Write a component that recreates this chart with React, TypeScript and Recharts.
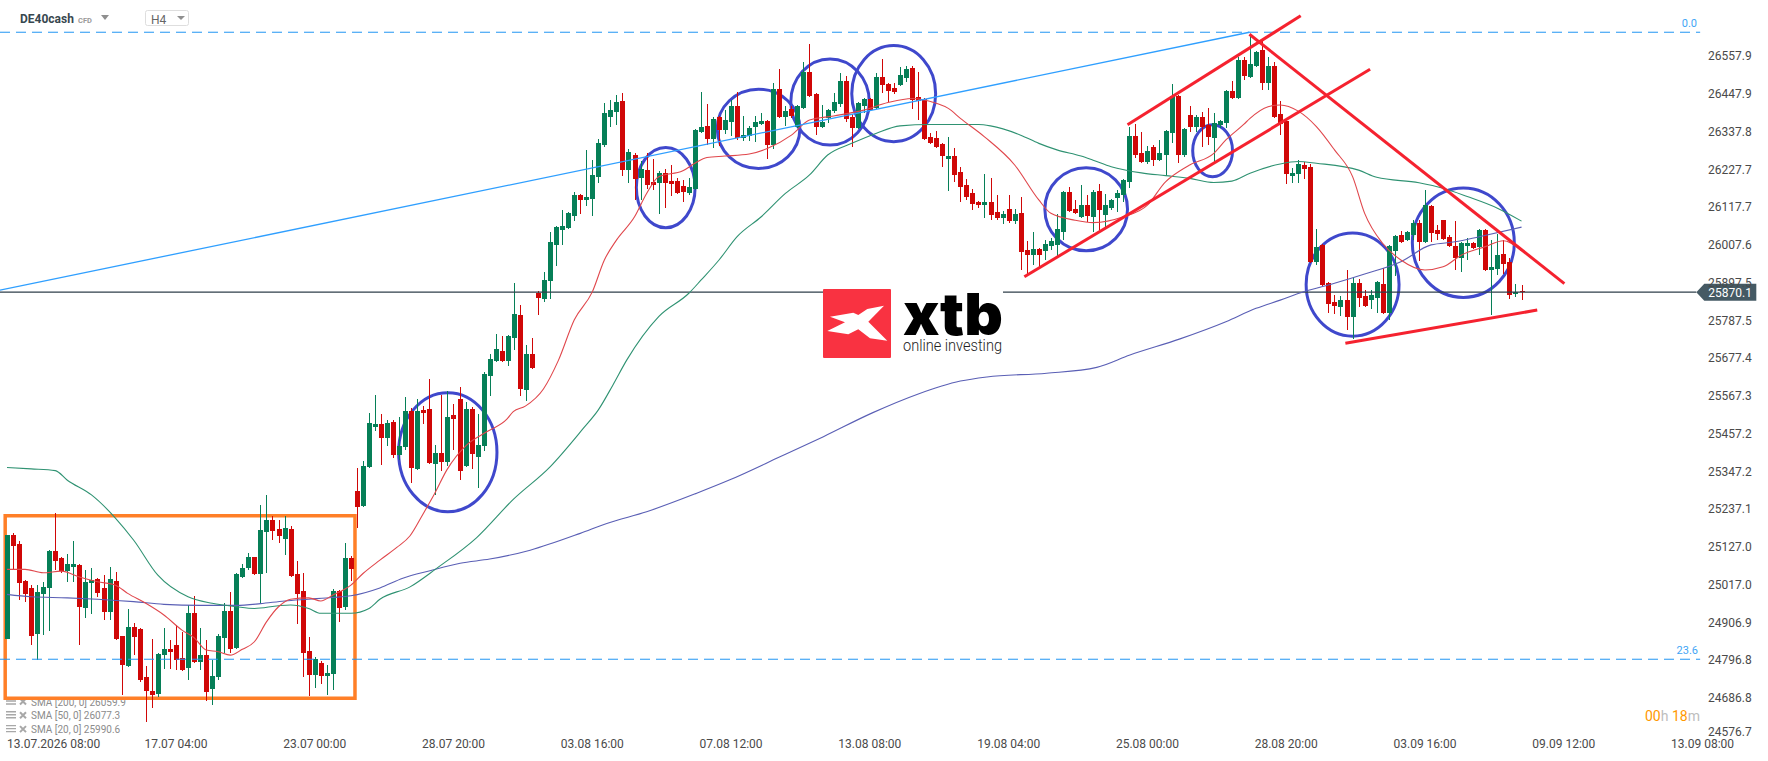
// App.tsx - DE40cash H4 candles with SMA overlays and hand drawn annotations
import React from "react";
import {
  ComposedChart, Bar, Line, XAxis, YAxis,
  ReferenceLine, ReferenceArea, ReferenceDot,
} from "recharts";

const FIRST_INDEX = -5;

const opens = [
  24859,25162,25136,25028,25007,24873,24990,25007,25115,25095,
  25057,25069,25074,24949,25022,25034,25007,24937,25028,24867,
  24780,24894,24888,24748,24707,24698,24812,24830,24841,24803,
  24774,24935,24792,24812,24713,24748,24862,24940,24832,25040,
  25066,25098,25048,25171,25206,25179,25150,25179,25048,24999,
  24824,24754,24789,24751,24757,24999,24952,25095,25290,25246,
  25360,25477,25486,25445,25491,25395,25418,25523,25354,25526,
  25529,25369,25401,25375,25512,25558,25363,25529,25389,25421,
  25626,25669,25698,25669,25736,25803,25585,25690,25868,25850,
  25903,26007,26051,26057,26092,26153,26139,26142,26206,26299,
  26381,26395,26427,26226,26270,26203,26226,26191,26188,26217,
  26194,26194,26180,26159,26171,26337,26355,26317,26381,26343,
  26366,26413,26320,26325,26352,26360,26369,26299,26462,26381,
  26404,26352,26407,26512,26448,26352,26378,26397,26419,26486,
  26381,26349,26413,26433,26407,26497,26477,26465,26474,26495,
  26524,26439,26433,26323,26320,26302,26258,26267,26220,26182,
  26159,26133,26124,26133,26104,26086,26113,26078,26101,25993,
  25978,25996,25990,26005,26008,26046,26162,26113,26089,26124,
  26089,26165,26095,26117,26145,26153,26191,26325,26276,26250,
  26293,26255,26270,26334,26442,26270,26387,26352,26381,26357,
  26320,26357,26363,26457,26436,26547,26497,26530,26576,26480,
  26530,26390,26369,26209,26215,26241,26235,25958,26008,25897,
  25841,25827,25847,25798,25897,25859,25847,25853,25894,25809,
  25990,26037,26022,26037,26072,26016,26121,26051,26080,26031,
  26005,25970,26005,26013,26002,26051,25935,25938,25981,25958,
  25865,25875,
];

const highs = [
  25162,25168,25144,25030,25016,25016,25024,25118,25226,25097,
  25107,25144,25079,25060,25065,25036,25045,25070,25054,24869,
  24946,24905,24890,24780,24859,24818,24891,24856,24900,24879,
  24958,24984,24891,24856,24797,24873,24963,24996,25050,25079,
  25110,25099,25249,25279,25217,25206,25217,25188,25086,25050,
  24865,24807,24795,24783,25006,25001,25139,25101,25357,25378,
  25518,25570,25515,25497,25497,25506,25564,25532,25558,25538,
  25617,25424,25570,25582,25544,25593,25550,25535,25515,25637,
  25690,25748,25742,25744,25897,25833,25716,25736,25873,25929,
  26045,26063,26110,26103,26162,26155,26285,26255,26317,26422,
  26430,26445,26451,26287,26276,26252,26276,26258,26223,26229,
  26241,26203,26197,26203,26346,26454,26419,26381,26383,26401,
  26430,26454,26384,26355,26384,26392,26371,26479,26521,26413,
  26413,26415,26541,26594,26451,26416,26404,26450,26509,26500,
  26391,26425,26435,26435,26509,26550,26479,26480,26527,26530,
  26530,26512,26435,26334,26340,26304,26323,26290,26235,26200,
  26171,26135,26215,26203,26153,26107,26153,26113,26148,26019,
  26046,25998,26022,26028,26098,26165,26177,26139,26183,26153,
  26168,26185,26156,26142,26168,26199,26352,26360,26337,26296,
  26299,26314,26342,26477,26445,26348,26413,26387,26395,26407,
  26392,26372,26459,26486,26556,26556,26623,26573,26605,26556,
  26541,26427,26371,26232,26255,26250,26244,26054,26010,25899,
  25862,25859,25935,25914,25908,25876,25876,25902,25941,26007,
  26036,26048,26048,26080,26080,26168,26123,26066,26082,26037,
  26078,26016,26028,26015,26053,26053,26022,26040,26022,25970,
  25894,25891,
];

const lows = [
  24859,25060,24972,24967,24841,24799,24870,24882,25060,25050,
  25025,25025,24841,24920,24932,24981,24914,24914,24856,24695,
  24778,24812,24734,24617,24658,24691,24771,24771,24768,24766,
  24739,24790,24768,24678,24666,24739,24817,24817,24830,25038,
  25060,25045,24961,25050,25147,25139,25104,25040,24902,24749,
  24692,24716,24727,24695,24710,24908,24943,25028,25182,25245,
  25358,25465,25366,25421,25386,25381,25410,25313,25352,25486,
  25370,25279,25349,25363,25410,25322,25361,25354,25299,25407,
  25567,25666,25666,25655,25701,25567,25553,25647,25803,25841,
  25850,25946,26007,26055,26078,26098,26121,26092,26188,26293,
  26352,26357,26209,26188,26139,26139,26171,26168,26098,26115,
  26150,26156,26133,26153,26169,26335,26299,26290,26296,26331,
  26325,26314,26311,26311,26308,26357,26258,26287,26379,26355,
  26378,26350,26405,26440,26328,26350,26363,26392,26410,26366,
  26294,26347,26392,26399,26405,26451,26425,26448,26472,26483,
  26404,26372,26315,26302,26291,26235,26165,26191,26133,26139,
  26110,26115,26086,26080,26080,26069,26072,26069,25935,25920,
  25949,25942,25964,25993,25975,26022,26105,26099,26087,26076,
  26046,26051,26057,26110,26104,26133,26174,26261,26247,26244,
  26238,26253,26209,26305,26247,26264,26337,26337,26293,26299,
  26250,26348,26349,26434,26434,26489,26495,26527,26460,26460,
  26378,26328,26185,26188,26188,26200,25956,25949,25889,25809,
  25806,25801,25760,25733,25827,25827,25821,25809,25807,25789,
  25917,26014,26019,26022,25961,26013,26016,26022,26023,26003,
  25935,25929,25964,25997,25978,25933,25803,25920,25923,25850,
  25856,25847,
];

const closes = [
  25162,25130,25022,24990,24867,24996,25010,25115,25086,25057,
  25077,25077,24952,25025,25031,24993,24937,25034,24859,24783,
  24894,24865,24739,24707,24695,24815,24830,24821,24797,24768,
  24935,24792,24812,24704,24751,24867,24940,24830,25048,25066,
  25098,25048,25177,25206,25174,25159,25182,25042,24990,24818,
  24754,24800,24751,24760,24999,24949,25095,25063,25244,25363,
  25488,25486,25445,25488,25395,25421,25523,25357,25523,25518,
  25372,25401,25375,25506,25500,25349,25529,25398,25424,25631,
  25675,25704,25669,25742,25806,25588,25690,25649,25853,25905,
  26016,26060,26063,26101,26153,26139,26147,26212,26305,26392,
  26401,26425,26226,26279,26200,26229,26182,26182,26217,26188,
  26185,26159,26162,26177,26343,26352,26317,26375,26343,26372,
  26413,26320,26328,26349,26366,26369,26299,26462,26381,26398,
  26384,26413,26512,26442,26352,26366,26401,26425,26486,26375,
  26349,26422,26433,26401,26497,26474,26457,26454,26503,26521,
  26430,26427,26317,26305,26293,26267,26267,26212,26177,26148,
  26127,26124,26133,26095,26086,26098,26078,26098,25987,25978,
  25996,25978,26010,26019,26054,26162,26107,26101,26124,26092,
  26162,26110,26124,26139,26159,26197,26325,26270,26250,26282,
  26255,26276,26340,26442,26270,26346,26352,26381,26352,26322,
  26363,26369,26457,26436,26547,26500,26535,26570,26480,26530,
  26381,26360,26215,26218,26244,26229,25958,26002,25891,25836,
  25830,25847,25798,25897,25853,25830,25862,25900,25809,26005,
  26034,26016,26046,26072,26016,26124,26043,26040,26025,26005,
  25970,26013,26013,25999,26051,25935,25943,25978,25952,25862,
  25872,25870.1,
];

// moving averages at the candle index
const sma20 = [
  [-5,25062],[-2,25062],[1,25052],[4,25057],[7,25040],[10,25026],[13,25016],[15,24992],
  [18,24963],[21,24929],[24,24885],[26,24863],[28,24827],[30,24822],[32,24812],[34,24829],
  [36,24851],[38,24909],[40,24953],[42,24975],[45,24979],[47,24970],[49,24987],[52,25016],
  [54,25050],[56.8,25089],[59.6,25126],[61.8,25160],[64,25225],[65.9,25284],[67.9,25352],[71.2,25425],
  [74.5,25463],[77.8,25499],[78.9,25522],[80.9,25538],[83.9,25588],[86.4,25672],[89,25789],[92,25871],[94,25964],
  [96,26022],[99,26090],[101,26158],[103,26207],[107,26224],[109,26246],[111,26263],[114,26267],
  [118,26273],[121,26289],[125,26328],[128,26372],[132,26384],[137,26401],[141,26423],[145,26435],
  [149,26421],[151,26406],[153,26377],[157,26323],[162,26241],[166,26139],[168,26100],[172,26080],
  [175,26073],[180,26090],[184,26124],[187,26192],[188,26207],[191,26241],[195,26275],[197,26314],
  [200,26360],[201,26377],[204,26411],[206,26416],[209,26398],[212,26353],[215,26285],[218,26207],
  [220,26100],[223,26012],[226,25964],[230,25935],[233,25944],[236,25978],[240,26003],[243,26020],
  [246,25990.6],
];

const sma50 = [
  [-5,25359],[-1,25355],[3,25350],[5,25322],[9,25279],[13,25211],[16,25147],[20,25045],
  [25,24982],[29,24963],[33,24953],[36,24948],[40,24956],[42,24958],[45,24948],[47,24934],
  [52,24934],[55,24948],[56.8,24975],[61.8,25011],[66.2,25065],[72.8,25154],[78.9,25266],[85,25361],
  [90.5,25473],[93,25527],[95.4,25599],[97.7,25672],[103,25799],[108,25867],[110,25905],[113,25964],
  [116,26032],[120,26090],[124,26158],[128,26212],[131,26270],[135,26304],[139,26333],[143,26355],
  [148,26359],[156,26359],[158,26355],[163,26328],[166,26304],[169,26285],[173,26267],[175,26255],
  [178,26236],[183,26218],[187,26210],[191,26202],[195,26190],[198,26194],[201,26217],[206,26244],
  [209,26251],[212,26246],[219,26226],[222,26205],[229,26189],[233,26173],[237,26149],[242,26115],
  [246,26077.3],
];

const sma200 = [
  [-5,24989],[-1,24982],[5,24979],[10,24975],[16,24968],[21,24960],[27,24957],[33,24957],
  [37,24962],[41,24970],[45,24975],[49,24980],[52,24985],[56.8,25008],[60.6,25036],[65.1,25058],
  [70.1,25080],[75,25092],[81.7,25118],[90,25167],[94.4,25196],[101,25230],[109.3,25284],[114.8,25323],
  [123.1,25390],[130.3,25449],[138.5,25519],[145.8,25572],[153,25611],[157.4,25623],[167.3,25634],[175.6,25651],
  [181.1,25687],[189.4,25734],[197,25784],[202,25823],
  [206,25847],[210,25872],[215,25896],[220,25923],[226,25959],[231,26008],[235,26017],[239,26032],
  [246,26059.9],
];

const xTicks = [0, 23, 46, 69, 92, 115, 138, 161, 184, 207, 230, 253, 276];
const xTickLabels = [
  "13.07.2026 08:00", "17.07 04:00", "23.07 00:00", "28.07 20:00", "03.08 16:00", "07.08 12:00",
  "13.08 08:00", "19.08 04:00", "25.08 00:00", "28.08 20:00", "03.09 16:00", "09.09 12:00", "13.09 08:00",
];
const yTicks = [
  26557.9, 26447.9, 26337.8, 26227.7, 26117.7, 26007.6, 25897.5, 25787.5, 25677.4, 25567.3,
  25457.2, 25347.2, 25237.1, 25127.0, 25017.0, 24906.9, 24796.8, 24686.8, 24576.7,
];

const LAST_PRICE = 25870.1;

// blue circles drawn on the chart: [index from, index to, price top, price bottom]
const circles = [
  [59.9, 76.2, 25577, 25230],
  [99.3, 109.04, 26292, 26058],
  [112.7, 126.4, 26462, 26231],
  [124.9, 137.9, 26550, 26299],
  [135, 148.9, 26589, 26309],
  [167, 180.7, 26233, 25991],
  [191.5, 198.1, 26358, 26207],
  [210.3, 225.7, 26043, 25742],
  [227.9, 244.8, 26174, 25855],
];

// red trend lines: [index, price, index, price]
const trendLines = [
  [163.6, 25915, 220.9, 26520],
  [180.7, 26358, 209.4, 26676],
  [200.9, 26622, 253.1, 25895],
  [216.8, 25721, 248.6, 25818],
];

const UP = "#067f57";
const DOWN = "#d00707";
const FONT = "Roboto, sans-serif";

const rows = opens.map((o, k) => ({
  i: FIRST_INDEX + k,
  open: o,
  high: highs[k],
  low: lows[k],
  close: closes[k],
}));
const toLine = (pts: number[][]) => pts.map(([i, v]) => ({ i, v }));

function Candle(props: any) {
  const { x, y, width, height, payload } = props;
  const { open, high, low, close } = payload;
  const k = height / (high - low || 1);
  const top = y + (high - Math.max(open, close)) * k;
  const bodyH = Math.max(Math.abs(open - close) * k, 1);
  const cx = Math.round(x + width / 2);
  const color = close >= open ? UP : DOWN;
  return (
    <g shapeRendering="crispEdges">
      <rect x={cx} y={y} width={1} height={Math.max(height, 1)} fill={color} />
      <rect x={cx - 2} y={top} width={5} height={bodyH} fill={color} />
    </g>
  );
}

function Ring(props: any) {
  const { x, y, width, height } = props;
  return (
    <ellipse
      cx={x + width / 2} cy={y + height / 2} rx={width / 2} ry={height / 2}
      fill="none" stroke="#3f48cc" strokeWidth={3}
    />
  );
}

function PriceTag(props: any) {
  const { cx, cy } = props;
  return (
    <g>
      <polygon
        points={`${cx},${cy} ${cx + 8},${cy - 8.5} ${cx + 60},${cy - 8.5} ${cx + 60},${cy + 8.5} ${cx + 8},${cy + 8.5}`}
        fill="#455a64"
      />
      <text x={cx + 12} y={cy + 4.5} fill="#fff" fontSize={12} fontFamily={FONT}>{LAST_PRICE.toFixed(1)}</text>
    </g>
  );
}

function YTick(props: any) {
  const { y, payload } = props;
  return (
    <text x={1708} y={Math.min(y, 731.5) + 4} fontSize={12} fontFamily={FONT} fill="#4a4a4a">
      {payload.value.toFixed(1)}
    </text>
  );
}

function XTick(props: any) {
  const { x, payload } = props;
  const label = xTickLabels[xTicks.indexOf(payload.value)];
  const first = payload.value === 0;
  return (
    <text
      x={first ? 7 : x} y={748} textAnchor={first ? "start" : "middle"}
      fontSize={12} fontFamily={FONT} fill="#4a4a4a"
    >
      {label}
    </text>
  );
}

function LegendRows() {
  const items = ["SMA [200, 0] 26059.9", "SMA [50, 0] 26077.3", "SMA [20, 0] 25990.6"];
  return (
    <svg width={1768} height={761} style={{ position: "absolute", left: 0, top: 0 }}>
      {items.map((t, k) => {
        const y = 702 + k * 13.8;
        return (
          <g key={t}>
            <path d={`M6 ${y - 4}h10M6 ${y - 1}h10M6 ${y + 2}h10`} stroke="#a8a8a8" strokeWidth={1.4} />
            <path d={`M20 ${y - 3.5}l6 6M26 ${y - 3.5}l-6 6`} stroke="#a8a8a8" strokeWidth={2} />
            <text x={31} y={y + 3.5} fontSize={10} fontFamily={FONT} fill="#8c8c8c">{t}</text>
          </g>
        );
      })}
    </svg>
  );
}

function Overlay() {
  return (
    <svg width={1768} height={761} style={{ position: "absolute", left: 0, top: 0, pointerEvents: "none" }}>
      {/* header */}
      <text x={20} y={23} fontSize={12} fontWeight={700} fontFamily={FONT} fill="#37474f">DE40cash</text>
      <text x={78} y={22.5} fontSize={7.5} fontWeight={700} fontFamily={FONT} fill="#9a9a9a">CFD</text>
      <polygon points="101,15 109,15 105,20" fill="#8f8f8f" />
      <rect x={145.5} y={10.5} width={43} height={15} rx={2} fill="#fff" stroke="#dedede" />
      <text x={151} y={24} fontSize={12} fontFamily={FONT} fill="#666">H4</text>
      <polygon points="177,16 185,16 181,20" fill="#8f8f8f" />

      {/* fib labels */}
      <text x={1697} y={27} textAnchor="end" fontSize={11} fontFamily={FONT} fill="#42a5f5">0.0</text>
      <text x={1698} y={654} textAnchor="end" fontSize={11} fontFamily={FONT} fill="#42a5f5">23.6</text>

      {/* countdown */}
      <text x={1645} y={721} fontSize={14} fontFamily={FONT}>
        <tspan fill="#ff9800">00</tspan>
        <tspan fill="#bdbdbd">h </tspan>
        <tspan fill="#ff9800">18</tspan>
        <tspan fill="#bdbdbd">m</tspan>
      </text>

      {/* logo */}
      <rect x={823} y={289} width={180} height={69} fill="#fff" />
      <rect x={823} y={289} width={68} height={69} rx={1} fill="#f93241" />
      <polygon
        points="884,305.7 868.3,321.7 887.3,340.7 870,338.3 858.3,329.3 848.3,334.3 827.3,331 845,322.3 830,316.7 853.3,312.7 858.3,315 867.3,309"
        fill="#fff"
      />
      <text x={903} y={335} fontSize={58} fontWeight={900} fontFamily="Inter, sans-serif" fill="#000" textLength={100} lengthAdjust="spacingAndGlyphs">xtb</text>
      <text x={903} y={351} fontSize={16} fontWeight={300} fontFamily={FONT} fill="#222" textLength={99} lengthAdjust="spacingAndGlyphs">online investing</text>
    </svg>
  );
}

export default function App() {
  return (
    <div style={{ position: "relative", width: 1768, height: 761, background: "#fff", overflow: "hidden" }}>
      <style>{"body{margin:0}"}</style>
      <LegendRows />
      <div style={{ position: "absolute", left: 0, top: 0 }}>
        <ComposedChart width={1768} height={761} data={rows} margin={{ top: 0, right: 0, bottom: 0, left: 0 }}>
          <XAxis
            dataKey="i" type="number" domain={[-6.16, 276.9]} ticks={xTicks} interval={0}
            height={25} axisLine={false} tickLine={false} tick={<XTick />}
          />
          <YAxis
            orientation="right" type="number" domain={[24576.2, 26722]} ticks={yTicks} interval={0}
            width={60} axisLine={false} tickLine={false} tick={<YTick />}
          />

          <ReferenceLine
            segment={[{ x: -6.16, y: 26628 }, { x: 275.6, y: 26628 }]}
            stroke="#2196f3" strokeWidth={1} strokeDasharray="10 6"
          />
          <ReferenceLine
            segment={[{ x: -6.16, y: 24800 }, { x: 275.6, y: 24800 }]}
            stroke="#2196f3" strokeWidth={1} strokeDasharray="10 6"
          />
          <ReferenceLine
            segment={[{ x: -6.16, y: LAST_PRICE }, { x: 274.96, y: LAST_PRICE }]}
            stroke="#2f3f4a" strokeWidth={1.2}
          />

          <Bar dataKey={(d: any) => [d.low, d.high]} barSize={5} shape={<Candle />} isAnimationActive={false} />

          <Line data={toLine(sma200)} dataKey="v" type="monotone" stroke="#5a5fb5" strokeWidth={1.1} dot={false} activeDot={false} isAnimationActive={false} />
          <Line data={toLine(sma50)} dataKey="v" type="monotone" stroke="#2f9272" strokeWidth={1.1} dot={false} activeDot={false} isAnimationActive={false} />
          <Line data={toLine(sma20)} dataKey="v" type="monotone" stroke="#e0474c" strokeWidth={1.1} dot={false} activeDot={false} isAnimationActive={false} />

          <ReferenceLine
            segment={[{ x: -6.16, y: 25876 }, { x: 200.9, y: 26628 }]}
            stroke="#2f9fff" strokeWidth={1.3}
          />
          {trendLines.map((l, k) => (
            <ReferenceLine
              key={k}
              segment={[{ x: l[0], y: l[1] }, { x: l[2], y: l[3] }]}
              stroke="#f5222f" strokeWidth={3}
            />
          ))}
          {circles.map((c, k) => (
            <ReferenceArea key={k} x1={c[0]} x2={c[1]} y1={c[2]} y2={c[3]} shape={<Ring />} />
          ))}
          <ReferenceArea
            x1={-5.3} x2={52.67} y1={25218.5} y2={24686}
            fill="none" fillOpacity={0} stroke="#ff7f27" strokeWidth={3.5}
          />
          <ReferenceDot x={274.96} y={LAST_PRICE} r={0} shape={<PriceTag />} />
        </ComposedChart>
      </div>
      <Overlay />
    </div>
  );
}
